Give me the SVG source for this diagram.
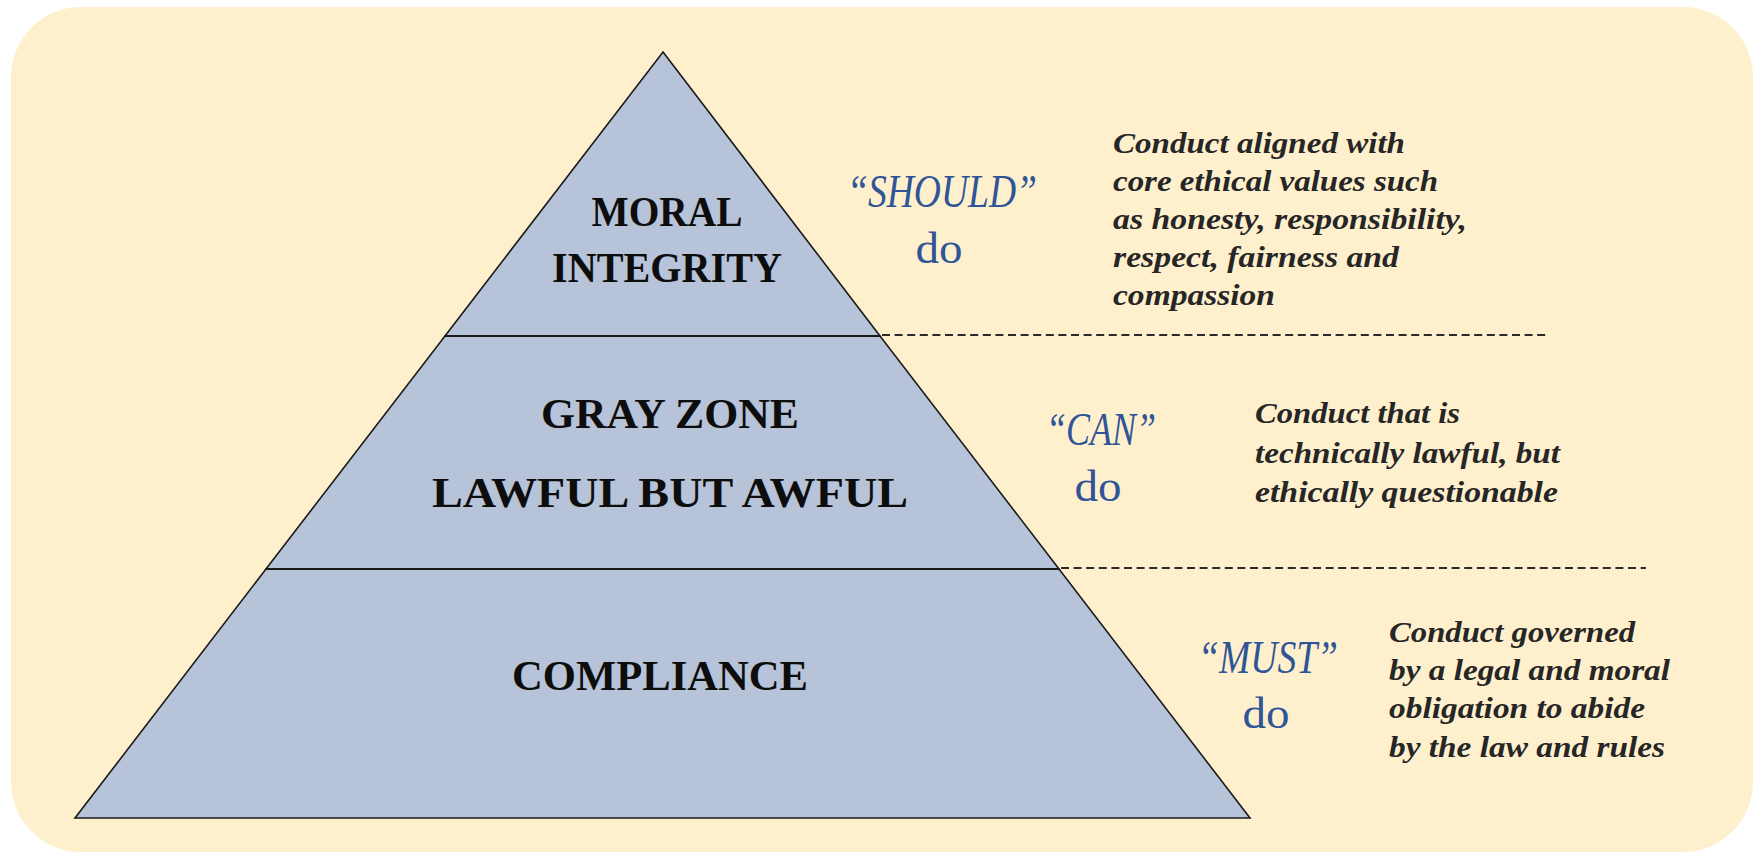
<svg xmlns="http://www.w3.org/2000/svg" width="1753" height="853" viewBox="0 0 1753 853">
  <style>
    .tier { fill: #B6C3D8; stroke: #1a1a1a; stroke-width: 1.6; stroke-linejoin: miter; }
    .divider { stroke: #1a1a1a; stroke-width: 2.2; fill: none; }
    .dash { stroke: #2a2a2a; stroke-width: 2; stroke-dasharray: 8 4.6; fill: none; }
    .lbl { font-family: "Liberation Serif", "Times New Roman", serif; font-weight: bold; font-size: 43px; fill: #0d0d0d; text-anchor: middle; }
    .kw { font-family: "Liberation Serif", "Times New Roman", serif; font-style: italic; font-size: 47px; fill: #2F5597; text-anchor: middle; }
    .do { font-family: "Liberation Serif", "Times New Roman", serif; font-size: 44px; fill: #2F5597; text-anchor: middle; }
    .desc { font-family: "Liberation Serif", "Times New Roman", serif; font-weight: bold; font-style: italic; font-size: 30px; fill: #262626; }
  </style>

  <g id="background">
    <rect x="11" y="7" width="1742" height="845" rx="70" ry="70" fill="#FFF0CD"/>
  </g>

  <g id="node-compliance">
    <polygon class="tier" points="266,569 1059,569 1250,818 75,818"/>
    <text class="lbl" x="660" y="690" textLength="296" lengthAdjust="spacingAndGlyphs">COMPLIANCE</text>
  </g>

  <g id="node-gray-zone">
    <polygon class="tier" points="445,336 880,336 1059,569 266,569"/>
    <text class="lbl" x="670" y="428" textLength="258" lengthAdjust="spacingAndGlyphs">GRAY ZONE</text>
    <text class="lbl" x="670" y="507" textLength="476" lengthAdjust="spacingAndGlyphs">LAWFUL BUT AWFUL</text>
  </g>

  <g id="node-moral-integrity">
    <polygon class="tier" points="663,52 880,336 445,336"/>
    <text class="lbl" x="667" y="226" textLength="151" lengthAdjust="spacingAndGlyphs">MORAL</text>
    <text class="lbl" x="667" y="282" textLength="230" lengthAdjust="spacingAndGlyphs">INTEGRITY</text>
  </g>

  <g id="connectors">
    <line class="divider" x1="445" y1="336" x2="880" y2="336"/>
    <line class="divider" x1="266" y1="569" x2="1059" y2="569"/>
    <line class="dash" x1="882" y1="335" x2="1546" y2="335"/>
    <line class="dash" x1="1061" y1="568" x2="1646" y2="568"/>
  </g>

  <g id="label-should">
    <text class="kw" x="942" y="207" textLength="190" lengthAdjust="spacingAndGlyphs">“SHOULD”</text>
    <text class="do" x="939" y="263" textLength="47" lengthAdjust="spacingAndGlyphs">do</text>
  </g>
  <g id="desc-should">
    <text class="desc" x="1113" y="153" textLength="292" lengthAdjust="spacingAndGlyphs">Conduct aligned with</text>
    <text class="desc" x="1113" y="191" textLength="325" lengthAdjust="spacingAndGlyphs">core ethical values such</text>
    <text class="desc" x="1113" y="229" textLength="354" lengthAdjust="spacingAndGlyphs">as honesty, responsibility,</text>
    <text class="desc" x="1113" y="267" textLength="286" lengthAdjust="spacingAndGlyphs">respect, fairness and</text>
    <text class="desc" x="1113" y="305" textLength="162" lengthAdjust="spacingAndGlyphs">compassion</text>
  </g>

  <g id="label-can">
    <text class="kw" x="1101" y="445" textLength="110" lengthAdjust="spacingAndGlyphs">“CAN”</text>
    <text class="do" x="1098" y="501" textLength="47" lengthAdjust="spacingAndGlyphs">do</text>
  </g>
  <g id="desc-can">
    <text class="desc" x="1255" y="423" textLength="205" lengthAdjust="spacingAndGlyphs">Conduct that is</text>
    <text class="desc" x="1255" y="463" textLength="305" lengthAdjust="spacingAndGlyphs">technically lawful, but</text>
    <text class="desc" x="1255" y="502" textLength="303" lengthAdjust="spacingAndGlyphs">ethically questionable</text>
  </g>

  <g id="label-must">
    <text class="kw" x="1268" y="673" textLength="140" lengthAdjust="spacingAndGlyphs">“MUST”</text>
    <text class="do" x="1266" y="728" textLength="47" lengthAdjust="spacingAndGlyphs">do</text>
  </g>
  <g id="desc-must">
    <text class="desc" x="1389" y="642" textLength="246" lengthAdjust="spacingAndGlyphs">Conduct governed</text>
    <text class="desc" x="1389" y="680" textLength="281" lengthAdjust="spacingAndGlyphs">by a legal and moral</text>
    <text class="desc" x="1389" y="718" textLength="256" lengthAdjust="spacingAndGlyphs">obligation to abide</text>
    <text class="desc" x="1389" y="757" textLength="276" lengthAdjust="spacingAndGlyphs">by the law and rules</text>
  </g>
</svg>
